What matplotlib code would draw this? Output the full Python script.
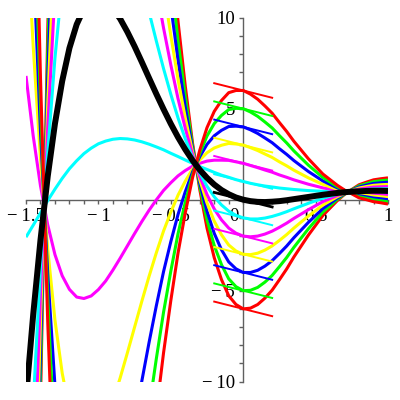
import matplotlib
matplotlib.use("Agg")
import matplotlib.pyplot as plt
from matplotlib.ticker import FixedLocator, MultipleLocator
from matplotlib.transforms import ScaledTranslation

# sample points along x
x_vals = [-1.5, -1.45, -1.4, -1.35, -1.3, -1.25, -1.2, -1.15, -1.1, -1.05, -1.0,
          -0.95, -0.9, -0.85, -0.8, -0.75, -0.7, -0.65, -0.6, -0.55, -0.5,
          -0.45, -0.4, -0.35, -0.3, -0.25, -0.2, -0.15, -0.1, -0.05, 0.0,
          0.05, 0.1, 0.15, 0.2, 0.25, 0.3, 0.35, 0.4, 0.45, 0.5,
          0.55, 0.6, 0.65, 0.7, 0.75, 0.8, 0.85, 0.9, 0.95, 1.0]

# the thick black curve (y(0) = 0)
base_curve = [-10.92, -6.29, -2.22, 1.28, 4.18, 6.52, 8.33, 9.63, 10.49, 10.95, 11.08,
              10.91, 10.51, 9.94, 9.22, 8.42, 7.56, 6.68, 5.81, 4.97, 4.17,
              3.43, 2.76, 2.16, 1.64, 1.2, 0.83, 0.53, 0.3, 0.12, 0.0,
              -0.08, -0.12, -0.13, -0.11, -0.08, -0.03, 0.03, 0.09, 0.15, 0.21,
              0.27, 0.32, 0.37, 0.41, 0.44, 0.46, 0.48, 0.49, 0.49, 0.48]

# how far each curve sits from the black one per unit of y(0)
per_unit = [8.86, 4.89, 1.49, -1.33, -3.6, -5.35, -6.63, -7.49, -7.96, -8.12, -8.01,
            -7.69, -7.19, -6.58, -5.88, -5.14, -4.38, -3.63, -2.91, -2.23, -1.62,
            -1.06, -0.58, -0.16, 0.18, 0.46, 0.67, 0.82, 0.93, 0.98, 1.0,
            0.98, 0.94, 0.88, 0.81, 0.72, 0.63, 0.53, 0.44, 0.35, 0.27,
            0.19, 0.13, 0.07, 0.02, -0.02, -0.06, -0.08, -0.1, -0.11, -0.12]

start_values = [-6, -5, -4, -3, -2, -1, 1, 2, 3, 4, 5, 6, 0]
start_slope = -2.0
tangent_x = [-0.2, 0.2]

curve_colors = {0: '#000000', 1: '#00ffff', 2: '#ff00ff', 3: '#ffff00',
                4: '#0000ff', 5: '#00ff00', 6: '#ff0000'}

x_ticks = [-1.5, -1, -0.5, 0, 0.5, 1]
x_tick_labels = ['\u2212\u20091.5', '\u2212\u20091', '\u2212\u20090.5', '0', '0.5', '1']
y_ticks = [-10, -5, 5, 10]
y_tick_labels = ['\u2212\u200910', '\u2212\u20095', '5', '10']

fig = plt.figure(figsize=(4, 4), dpi=100, facecolor='w')
ax = fig.add_axes([0.065, 0.0458, 0.905, 0.91])

for c in start_values:
    col = curve_colors[abs(c)]
    ys = [b + c * u for b, u in zip(base_curve, per_unit)]
    thick = 4.3 if c == 0 else 2.2
    ax.plot(x_vals, ys, color=col, lw=thick, solid_capstyle='butt', zorder=3 if c == 0 else 2)
    ax.plot(tangent_x, [c + start_slope * t for t in tangent_x], color=col,
            lw=2.0 if c == 0 else 1.4, zorder=3.1 if c == 0 else 2.1)

ax.set_xlim(-1.5, 1)
ax.set_ylim(-10, 10)

for side in ('top', 'right'):
    ax.spines[side].set_visible(False)
for side in ('left', 'bottom'):
    ax.spines[side].set_position(('data', 0))
    ax.spines[side].set_color('#606060')
    ax.spines[side].set_linewidth(1.0)
    ax.spines[side].set_zorder(1)

ax.xaxis.set_major_locator(FixedLocator(x_ticks))
ax.xaxis.set_minor_locator(MultipleLocator(0.1))
ax.yaxis.set_major_locator(FixedLocator(y_ticks))
ax.yaxis.set_minor_locator(MultipleLocator(1))
ax.set_xticklabels(x_tick_labels)
ax.set_yticklabels(y_tick_labels)
ax.tick_params(which='both', direction='out', length=3, width=1, colors='#606060')
ax.tick_params(axis='x', pad=3)
ax.tick_params(axis='y', pad=3)
for lab in ax.get_xticklabels() + ax.get_yticklabels():
    lab.set_fontfamily(['Liberation Serif', 'DejaVu Serif'])
    lab.set_fontsize(13.5)
    lab.set_color('black')

# maple nudges the "0" label off the vertical axis
zero_lab = ax.get_xticklabels()[3]
zero_lab.set_transform(zero_lab.get_transform() + ScaledTranslation(-0.09, 0, fig.dpi_scale_trans))

fig.savefig('out.png', dpi=100)
